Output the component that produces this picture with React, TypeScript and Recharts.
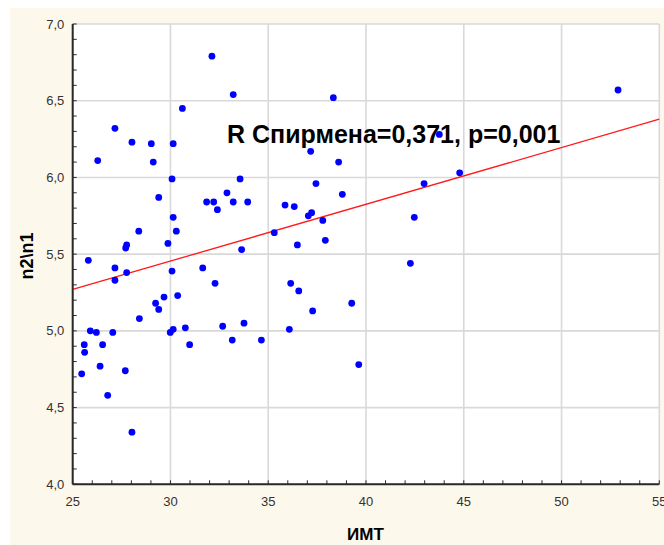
import React from 'react';
import {
  ScatterChart,
  Scatter,
  XAxis,
  YAxis,
  CartesianGrid,
  ReferenceLine,
} from 'recharts';

// ИМТ (x) and n2\n1 (y) for each patient
const imtValues = [
  32.12, 33.21, 30.61, 27.16, 26.28, 28.03, 29.02, 29.12, 30.14, 30.08,
  29.4, 33.56, 32.89, 31.85, 32.21, 32.4, 33.21, 33.95, 37.17, 37.44,
  35.86, 36.33, 37.05, 37.22, 37.79, 37.92, 36.49, 35.31, 33.64, 30.14,
  30.3, 29.87, 28.38, 27.76, 27.71, 25.8, 27.16, 27.76, 30.08, 31.65,
  38.33, 52.89, 43.75, 38.6, 44.79, 42.97, 38.79, 42.47, 42.27, 27.16,
  32.28, 36.15, 36.56, 30.37, 29.67, 29.24, 29.4, 37.27, 28.41, 25.9,
  26.21, 27.05, 29.99, 30.14, 30.76, 32.67, 33.76, 36.08, 25.59, 26.53,
  30.98, 33.16, 34.65, 25.61, 26.4, 25.46, 27.69, 26.79, 28.03, 39.27,
  39.63,
];
const n2n1Values = [
  6.79, 6.54, 6.45, 6.32, 6.11, 6.23, 6.22, 6.1, 6.22, 5.99,
  5.87, 5.99, 5.9, 5.84, 5.84, 5.79, 5.84, 5.84, 6.17, 5.96,
  5.82, 5.81, 5.75, 5.77, 5.72, 5.59, 5.56, 5.64, 5.53, 5.74,
  5.65, 5.57, 5.65, 5.56, 5.54, 5.46, 5.41, 5.38, 5.39, 5.41,
  6.52, 6.57, 6.28, 6.1, 6.03, 5.96, 5.89, 5.74, 5.44, 5.33,
  5.31, 5.31, 5.26, 5.23, 5.22, 5.18, 5.14, 5.13, 5.08, 5.0,
  4.99, 4.99, 4.99, 5.01, 5.02, 5.03, 5.05, 5.01, 4.91, 4.91,
  4.91, 4.94, 4.94, 4.86, 4.77, 4.72, 4.74, 4.58, 4.34, 5.18,
  4.78,
];

// fitted line ends
const fitX = [25, 55];
const fitY = [5.27, 6.38];

const xMajorTicks = [25, 30, 35, 40, 45, 50, 55];
const xMinorTicks = [
  25, 26, 27, 28, 29, 30, 31, 32, 33, 34, 35, 36, 37, 38, 39, 40,
  41, 42, 43, 44, 45, 46, 47, 48, 49, 50, 51, 52, 53, 54, 55,
];
const yMajorTicks = [4, 4.5, 5, 5.5, 6, 6.5, 7];
const yMinorTicks = [
  4, 4.1, 4.2, 4.3, 4.4, 4.5, 4.6, 4.7, 4.8, 4.9, 5, 5.1, 5.2, 5.3, 5.4, 5.5,
  5.6, 5.7, 5.8, 5.9, 6, 6.1, 6.2, 6.3, 6.4, 6.5, 6.6, 6.7, 6.8, 6.9, 7,
];

const xLabel = 'ИМТ';
const yLabel = 'n2\\n1';
const note = 'R Спирмена=0,371, p=0,001';

const points = imtValues.map((x, i) => ({ x, y: n2n1Values[i] }));

const font = "'Liberation Sans', Arial, sans-serif";
const axisColor = '#2a2a2a';
const tickStyle = { fontSize: 13, fill: '#333', fontFamily: font };

const fmtX = (v) => (xMajorTicks.includes(v) ? String(v) : '');
const fmtY = (v) =>
  yMajorTicks.includes(v) ? v.toFixed(1).replace('.', ',') : '';

const Dot = (props) => (
  <circle cx={props.cx} cy={props.cy} r={3.4} fill='#0000ff' />
);

export default function App() {
  return (
    <div
      style={{
        position: 'absolute',
        left: 0,
        top: 0,
        width: 664,
        height: 545,
        background: '#fff',
      }}
    >
      <div
        style={{
          position: 'absolute',
          left: 10,
          top: 8,
          right: 0,
          bottom: 0,
          background: '#fdf8ec',
        }}
      />
      <div style={{ position: 'absolute', left: 0, top: 0 }}>
        <ScatterChart
          width={664}
          height={545}
          margin={{ top: 24, right: 4.7, left: 0, bottom: 0 }}
        >
          <CartesianGrid
            fill='#fff'
            stroke='#d9d9d9'
            strokeWidth={1.6}
            verticalValues={xMajorTicks}
            horizontalValues={yMajorTicks}
          />
          <XAxis
            type='number'
            dataKey='x'
            domain={[25, 55]}
            ticks={xMinorTicks}
            interval={0}
            tickFormatter={fmtX}
            tickSize={-4}
            tickMargin={16.4}
            height={60.7}
            tick={tickStyle}
            axisLine={{ stroke: axisColor, strokeWidth: 2 }}
            tickLine={{ stroke: axisColor }}
            allowDataOverflow
          />
          <XAxis
            xAxisId='top'
            orientation='top'
            type='number'
            domain={[25, 55]}
            ticks={xMinorTicks}
            interval={0}
            tickSize={-4}
            height={0}
            tick={() => <g />}
            axisLine={{ stroke: axisColor, strokeWidth: 2 }}
            tickLine={{ stroke: axisColor }}
          />
          <YAxis
            type='number'
            dataKey='y'
            domain={[4, 7]}
            ticks={yMinorTicks}
            interval={0}
            tickFormatter={fmtY}
            tickSize={-4}
            tickMargin={12.4}
            width={72.7}
            tick={tickStyle}
            axisLine={{ stroke: axisColor, strokeWidth: 2 }}
            tickLine={{ stroke: axisColor }}
            allowDataOverflow
          />
          <YAxis
            yAxisId='right'
            orientation='right'
            type='number'
            domain={[4, 7]}
            ticks={yMinorTicks}
            interval={0}
            tickSize={-4}
            width={0}
            tick={() => <g />}
            axisLine={{ stroke: axisColor, strokeWidth: 2 }}
            tickLine={{ stroke: axisColor }}
          />
          <text
            x={227}
            y={143.3}
            fontFamily={font}
            fontWeight='bold'
            fontSize={25}
            fill='#000'
          >
            {note}
          </text>
          <text
            x={365.5}
            y={540}
            textAnchor='middle'
            fontFamily={font}
            fontWeight='bold'
            fontSize={17}
            fill='#000'
          >
            {xLabel}
          </text>
          <text
            x={33}
            y={256}
            textAnchor='middle'
            transform='rotate(-90 33 256)'
            fontFamily={font}
            fontWeight='bold'
            fontSize={18}
            fill='#000'
          >
            {yLabel}
          </text>
          <ReferenceLine
            segment={[
              { x: fitX[0], y: fitY[0] },
              { x: fitX[1], y: fitY[1] },
            ]}
            stroke='#ff1a1a'
            strokeWidth={1.3}
          />
          <Scatter data={points} shape={Dot} isAnimationActive={false} />
        </ScatterChart>
      </div>
    </div>
  );
}
